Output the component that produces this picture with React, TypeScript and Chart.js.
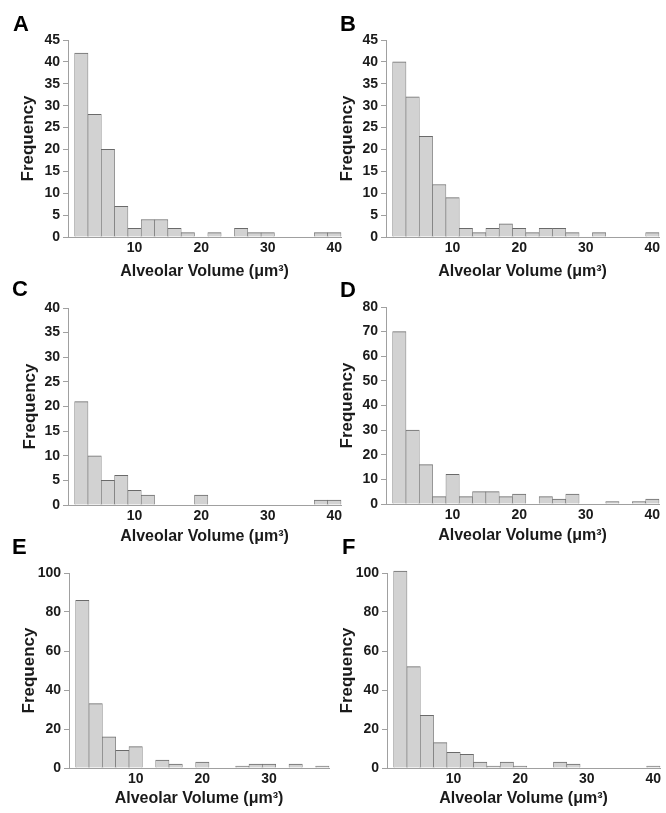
import React, { useEffect, useRef } from 'react';
import { Chart, registerables } from 'chart.js';

Chart.register(...registerables);

// ---- data ----
const binCenters = [2, 4, 6, 8, 10, 12, 14, 16, 18, 20, 22, 24, 26, 28, 30, 32, 34, 36, 38, 40];
const freqA = [42, 28, 20, 7, 2, 4, 4, 2, 1, 0, 1, 0, 2, 1, 1, 0, 0, 0, 1, 1];
const freqB = [40, 32, 23, 12, 9, 2, 1, 2, 3, 2, 1, 2, 2, 1, 0, 1, 0, 0, 0, 1];
const freqC = [21, 10, 5, 6, 3, 2, 0, 0, 0, 2, 0, 0, 0, 0, 0, 0, 0, 0, 1, 1];
const freqD = [70, 30, 16, 3, 12, 3, 5, 5, 3, 4, 0, 3, 2, 4, 0, 0, 1, 0, 1, 2];
const freqE = [86, 33, 16, 9, 11, 0, 4, 2, 0, 3, 0, 0, 1, 2, 2, 0, 2, 0, 1];
const freqF = [101, 52, 27, 13, 8, 7, 3, 1, 3, 1, 0, 0, 3, 2, 0, 0, 0, 0, 0, 1];
const panelLetters = ['A', 'B', 'C', 'D', 'E', 'F'];
const xMaxes = [41, 41, 41, 41, 39, 41];
const yMaxes = [45, 45, 40, 80, 100, 100];
const ySteps = [5, 5, 5, 10, 20, 20];
const xStep = 10;
const xTitle = 'Alveolar Volume (\u03bcm\u00b3)';
const yTitle = 'Frequency';
const panelValues = [freqA, freqB, freqC, freqD, freqE, freqF];

// ---- layout / style ----
const UNIT = 6.67; // px per x unit
const Y_AXIS_W = 68;
const X_AXIS_H = 50;
const PAD_TOP = 14;
const PAD_RIGHT = 10;
const layout = [
  { plotLeft: 68, plotTop: 40, plotBottom: 237, yTitleX: 28, xTitleOff: 35, lx: 13, ly: 16 },
  { plotLeft: 386, plotTop: 40, plotBottom: 237, yTitleX: 347, xTitleOff: 35, lx: 340, ly: 16 },
  { plotLeft: 68, plotTop: 308, plotBottom: 505, yTitleX: 30, xTitleOff: 32, lx: 12, ly: 281 },
  { plotLeft: 386, plotTop: 307, plotBottom: 504, yTitleX: 347, xTitleOff: 32, lx: 340, ly: 282 },
  { plotLeft: 69, plotTop: 573, plotBottom: 768, yTitleX: 29, xTitleOff: 31, lx: 12, ly: 539 },
  { plotLeft: 387, plotTop: 573, plotBottom: 768, yTitleX: 347, xTitleOff: 31, lx: 342, ly: 539 },
];
const FONT = '"Liberation Sans", Arial, Helvetica, sans-serif';
const TEXT = '#1a1a1a';
const AXIS = '#a0a0a0';
const BAR_FILL = '#d2d2d2';
const BAR_EDGE = '#6a6a6a';
const TICK_SIZE = 14;
const X_TITLE_SIZE = 16;
const Y_TITLE_SIZE = 17;

function Panel({ idx }: { idx: number }) {
  const ref = useRef<HTMLCanvasElement | null>(null);
  const L = layout[idx];
  const xMax = xMaxes[idx];
  const values = panelValues[idx];
  const plotH = L.plotBottom - L.plotTop;
  const width = Math.round(Y_AXIS_W + xMax * UNIT + PAD_RIGHT);
  const height = PAD_TOP + plotH + X_AXIS_H;
  const left = L.plotLeft - Y_AXIS_W;
  const top = L.plotTop - PAD_TOP;
  const lhx = X_TITLE_SIZE * 1.2;
  const lhy = Y_TITLE_SIZE * 1.2;

  useEffect(() => {
    const canvas = ref.current;
    if (!canvas) return;
    const chart = new Chart(canvas, {
      type: 'bar',
      data: {
        datasets: [
          {
            data: values.map((v, i) => ({ x: binCenters[i], y: v === 0 ? null : v })),
            backgroundColor: BAR_FILL,
            borderColor: BAR_EDGE,
            borderWidth: { top: 1, left: 0.6, right: 0.6, bottom: 0 },
            borderSkipped: 'start',
            barPercentage: 1,
            categoryPercentage: 1,
            clip: false,
          } as any,
        ],
      },
      options: {
        animation: false,
        responsive: false,
        maintainAspectRatio: false,
        devicePixelRatio: 1,
        layout: { padding: { top: PAD_TOP, right: PAD_RIGHT, left: 0, bottom: 0 } },
        plugins: { legend: { display: false }, tooltip: { enabled: false }, title: { display: false } },
        scales: {
          x: {
            type: 'linear',
            min: 0,
            max: xMax,
            offset: false,
            grid: { display: true, drawOnChartArea: false, drawTicks: false, offset: false, color: AXIS },
            border: { display: true, color: AXIS, width: 1 },
            ticks: {
              stepSize: xStep,
              includeBounds: false,
              padding: 3,
              maxRotation: 0,
              autoSkip: false,
              color: TEXT,
              font: { family: FONT, size: TICK_SIZE, weight: 'bold' },
              callback: (v: any) => (Number(v) === 0 ? '' : String(v)),
            },
            title: {
              display: true,
              text: xTitle,
              color: TEXT,
              font: { family: FONT, size: X_TITLE_SIZE, weight: 'bold' },
              padding: { top: 0, bottom: X_AXIS_H - L.xTitleOff - lhx / 2 },
            },
            afterFit: (s: any) => {
              s.height = X_AXIS_H;
            },
          },
          y: {
            min: 0,
            max: yMaxes[idx],
            grid: { display: true, drawOnChartArea: false, drawTicks: true, tickLength: 5, color: AXIS },
            border: { display: true, color: AXIS, width: 1 },
            ticks: {
              stepSize: ySteps[idx],
              padding: 3,
              autoSkip: false,
              color: TEXT,
              font: { family: FONT, size: TICK_SIZE, weight: 'bold' },
            },
            title: {
              display: true,
              text: yTitle,
              color: TEXT,
              font: { family: FONT, size: Y_TITLE_SIZE, weight: 'bold' },
              padding: { top: L.yTitleX - left - lhy / 2, bottom: 0 },
            },
            afterFit: (s: any) => {
              s.width = Y_AXIS_W;
            },
          },
        },
      } as any,
    });
    return () => chart.destroy();
  }, []);

  return (
    <>
      <canvas
        ref={ref}
        width={width}
        height={height}
        style={{ position: 'absolute', left, top, width, height }}
      />
      <div
        style={{
          position: 'absolute',
          left: L.lx,
          top: L.ly - 3,
          font: `bold 22px/22px ${FONT}`,
          color: '#000',
        }}
      >
        {panelLetters[idx]}
      </div>
    </>
  );
}

export default function App() {
  return (
    <div
      style={{
        position: 'absolute',
        left: 0,
        top: 0,
        width: 666,
        height: 813,
        background: '#fff',
        overflow: 'hidden',
      }}
    >
      {panelLetters.map((_, i) => (
        <Panel key={i} idx={i} />
      ))}
    </div>
  );
}
